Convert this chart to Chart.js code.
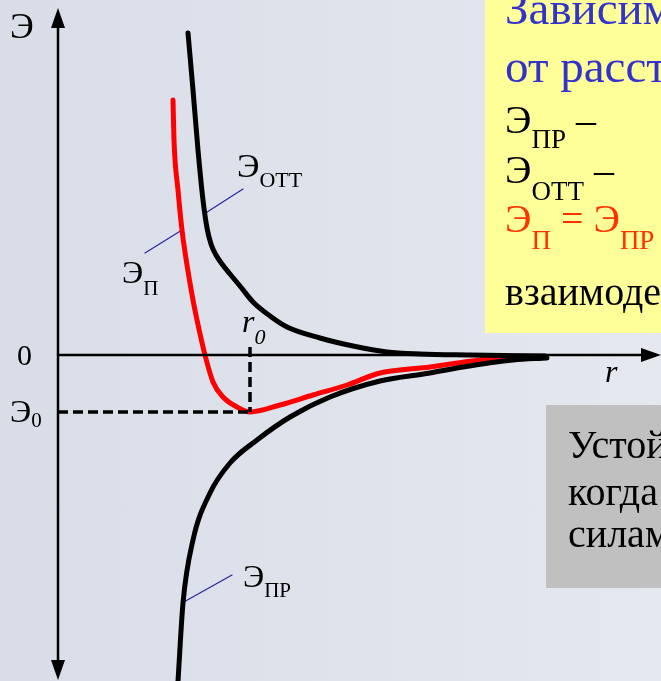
<!DOCTYPE html>
<html>
<head>
<meta charset="utf-8">
<script src="https://cdn.jsdelivr.net/npm/chart.js@4.4.0/dist/chart.umd.min.js"></script>
<style>
html, body { margin: 0; padding: 0; }
body {
    width: 661px; height: 681px; overflow: hidden;
    background: linear-gradient(to right, #d9dde8, #e5e8ef);
    font-family: "Liberation Serif", "Times New Roman", serif;
}
#wrap { position: relative; width: 661px; height: 681px; overflow: hidden; }
#chart { position: absolute; left: 0; top: 0; }
.box { position: absolute; }
.t { position: absolute; line-height: 1; white-space: nowrap; }
</style>
</head>
<body>
<div id="wrap">
    <div class="box" style="left:485px;top:0;width:176px;height:333px;background:#ffff99"></div>
    <div class="box" style="left:546px;top:405px;width:115px;height:183px;background:#c0c0c0"></div>
    <canvas id="chart" width="661" height="681"></canvas>
</div>
<script>
// repulsion energy (upper black curve)
var rOtt = [130, 135, 140, 145, 149, 153, 158, 164, 172, 182, 195, 212, 229, 262, 295, 329, 362, 412, 487];
var eOtt = [322, 265, 205, 155, 127, 111, 100, 91, 81, 69, 53, 39, 28, 17, 9, 3, 1, 0, -1];
// total potential energy (red curve)
var rSum = [115, 116, 120, 124, 129, 135, 139, 147, 155, 165, 179, 192, 222, 255, 289, 322, 372, 422, 467];
var eSum = [255, 215, 165, 125, 90, 55, 35, 0, -27, -42, -52, -57, -50, -40, -30, -18, -12, -5, -2];
// attraction energy (lower black curve)
var rPr = [120, 125, 135, 152, 172, 199, 232, 272, 322, 372, 405, 455, 489];
var ePr = [-326, -248, -185, -138, -108, -85, -62, -42, -26, -18, -12, -5, -3];
// equilibrium point
var r0 = 192;
var e0 = -57;

function pts(xs, ys) {
    return xs.map(function (x, i) { return {x: x, y: ys[i]}; });
}

function line(data, color, width, extra) {
    var ds = {
        data: data,
        borderColor: color,
        borderWidth: width,
        pointRadius: 0,
        showLine: true,
        fill: false,
        cubicInterpolationMode: 'monotone',
        borderCapStyle: 'round'
    };
    for (var k in extra) ds[k] = extra[k];
    return ds;
}

// arrow heads at the ends of the axes
var arrows = {
    id: 'arrows',
    afterDatasetsDraw: function (chart) {
        var c = chart.ctx, xs = chart.scales.x, ys = chart.scales.y;
        function head(x, y, dx, dy) {
            var px = xs.getPixelForValue(x), py = ys.getPixelForValue(y);
            var len = 20, half = 7;
            c.beginPath();
            c.moveTo(px, py);
            c.lineTo(px - dx * len - dy * half, py - dy * len + dx * half);
            c.lineTo(px - dx * len + dy * half, py - dy * len - dx * half);
            c.closePath();
            c.fillStyle = '#000';
            c.fill();
        }
        head(0, 347, 0, -1);
        head(0, -325, 0, 1);
        head(603, 0, 1, 0);
    }
};

var straight = {cubicInterpolationMode: 'default', tension: 0};
var dashed = {cubicInterpolationMode: 'default', tension: 0, borderDash: [10, 5], borderCapStyle: 'butt'};

new Chart(document.getElementById('chart'), {
    type: 'scatter',
    data: {
        datasets: [
            line([{x: 0, y: 330}, {x: 0, y: -308}], '#000', 2.5, straight),
            line([{x: 0, y: 0}, {x: 586, y: 0}], '#000', 2.5, straight),
            line([{x: r0, y: 8}, {x: r0, y: e0}], '#000', 3.5, dashed),
            line([{x: 0, y: e0}, {x: r0, y: e0}], '#000', 3.5, dashed),
            line(pts(rOtt, eOtt), '#000', 5),
            line(pts(rPr, ePr), '#000', 5),
            line(pts(rSum, eSum), '#ff0000', 5),
            line([{x: 185, y: 166}, {x: 146, y: 141}], '#2626a0', 1.2, straight),
            line([{x: 87, y: 102}, {x: 124, y: 125}], '#2626a0', 1.2, straight),
            line([{x: 174, y: -220}, {x: 124, y: -248}], '#2626a0', 1.2, straight)
        ]
    },
    options: {
        responsive: false,
        animation: false,
        layout: {padding: 0},
        plugins: {legend: {display: false}, tooltip: {enabled: false}},
        scales: {
            x: {type: 'linear', min: -58, max: 603, display: false},
            y: {type: 'linear', min: -326, max: 355, display: false}
        }
    },
    plugins: [arrows]
});

// text labels, placed by baseline
function sub(text, size, drop) {
    return '<span style="font-size:' + size + 'px;position:relative;top:' + drop + 'px">' + text + '</span>';
}
function place(html, left, base, size, color, italic) {
    var d = document.createElement('div');
    d.className = 't';
    d.style.left = left + 'px';
    d.style.top = (base - 0.8375 * size) + 'px';
    d.style.fontSize = size + 'px';
    d.style.color = color || '#000';
    if (italic) d.style.fontStyle = 'italic';
    d.innerHTML = html;
    document.getElementById('wrap').appendChild(d);
}

place('Э', 10, 38, 36);
place('0', 17, 365, 30);
place('Э' + sub('0', 21, 5), 10, 422, 32);
place('r', 605, 382, 32, '#000', true);
place('r' + sub('0', 22, 12), 242, 332, 32, '#000', true);
place('Э' + sub('ОТТ', 22, 10), 237, 177, 34);
place('Э' + sub('П', 21, 12), 122, 283, 32);
place('Э' + sub('ПР', 21, 10), 243, 587, 32);

place('Зависимость', 505, 24, 47, '#3333cc');
place('от расстояния', 505, 82, 47, '#3333cc');
place('Э' + sub('ПР', 27, 15) + ' –', 505, 133, 40);
place('Э' + sub('ОТТ', 27, 17) + ' –', 505, 183, 40);
place('Э' + sub('П', 27, 17) + ' = Э' + sub('ПР', 27, 17) + ' + Э' + sub('ОТТ', 27, 17), 505, 232, 40, '#ff3300');
place('взаимодействия', 505, 305, 40);

place('Устойчивое', 568, 458, 40);
place('когда силы', 568, 505, 40);
place('силами', 568, 547, 40);
</script>
</body>
</html>
